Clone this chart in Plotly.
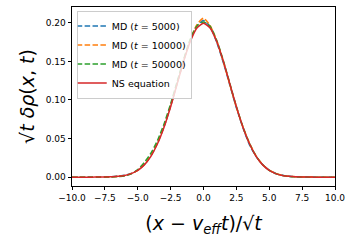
import plotly.graph_objects as go

x = [-10.0, -9.5, -9.0, -8.5, -8.0, -7.5, -7.0, -6.5, -6.0, -5.5, -5.0, -4.5, -4.0, -3.5, -3.0, -2.5, -2.0, -1.5, -1.0, -0.5,
     0.0, 0.5, 1.0, 1.5, 2.0, 2.5, 3.0, 3.5, 4.0, 4.5, 5.0, 5.5, 6.0, 6.5, 7.0, 7.5, 8.0, 8.5, 9.0, 9.5, 10.0]

ns_eq = [0.0, 0.0, 0.0, 0.0, 0.0001, 0.0002, 0.0004, 0.0010, 0.0022, 0.0045, 0.0088, 0.0159, 0.0270, 0.0432, 0.0648, 0.0913, 0.1210, 0.1506, 0.1760, 0.1934,
         0.1995, 0.1934, 0.1760, 0.1506, 0.1210, 0.0913, 0.0648, 0.0432, 0.0270, 0.0159, 0.0088, 0.0045, 0.0022, 0.0010, 0.0004, 0.0002, 0.0001, 0.0, 0.0, 0.0, 0.0]

md_5000 = [0.0, 0.0, 0.0, 0.0001, 0.0001, 0.0003, 0.0005, 0.0011, 0.0023, 0.0047, 0.0090, 0.0163, 0.0276, 0.0440, 0.0655, 0.0920, 0.1222, 0.1515, 0.1775, 0.1960,
           0.2030, 0.1950, 0.1750, 0.1490, 0.1195, 0.0900, 0.0640, 0.0418, 0.0268, 0.0160, 0.0090, 0.0046, 0.0023, 0.0011, 0.0005, 0.0002, 0.0001, 0.0, 0.0, 0.0, 0.0]

md_10000 = [0.0, 0.0, 0.0, 0.0, 0.0001, 0.0002, 0.0004, 0.0010, 0.0021, 0.0046, 0.0089, 0.0165, 0.0280, 0.0445, 0.0660, 0.0925, 0.1220, 0.1520, 0.1785, 0.1975,
            0.2060, 0.1965, 0.1770, 0.1500, 0.1200, 0.0905, 0.0650, 0.0440, 0.0275, 0.0162, 0.0090, 0.0047, 0.0022, 0.0010, 0.0005, 0.0002, 0.0001, 0.0, 0.0, 0.0, 0.0]

md_50000 = [0.0, 0.0, 0.0, 0.0, 0.0, 0.0001, 0.0002, 0.0008, 0.0015, 0.0042, 0.0098, 0.0190, 0.0310, 0.0475, 0.0690, 0.0950, 0.1240, 0.1530, 0.1790, 0.1960,
            0.2010, 0.1955, 0.1775, 0.1515, 0.1215, 0.0915, 0.0650, 0.0435, 0.0272, 0.0160, 0.0088, 0.0045, 0.0022, 0.0010, 0.0004, 0.0001, 0.0, 0.0, 0.0, 0.0, 0.0]

x_ticks = [-10.0, -7.5, -5.0, -2.5, 0.0, 2.5, 5.0, 7.5, 10.0]
x_tick_text = ["\u221210.0", "\u22127.5", "\u22125.0", "\u22122.5", "0.0", "2.5", "5.0", "7.5", "10.0"]
y_ticks = [0.0, 0.05, 0.10, 0.15, 0.20]
y_tick_text = ["0.00", "0.05", "0.10", "0.15", "0.20"]

series = [
    ("MD (<i>t</i> = 5000)", md_5000, "#1f77b4", "5.5px,2.4px"),
    ("MD (<i>t</i> = 10000)", md_10000, "#ff7f0e", "5.5px,2.4px"),
    ("MD (<i>t</i> = 50000)", md_50000, "#2ca02c", "5.5px,2.4px"),
    ("NS equation", ns_eq, "#d62728", "solid"),
]

fig = go.Figure()
for name, vals, col, dash in series:
    fig.add_trace(go.Scatter(x=x, y=vals, mode="lines", name=name,
                             line=dict(color=col, width=1.5, dash=dash, shape="spline", smoothing=0.6)))

font = "DejaVu Sans, sans-serif"
fig.update_layout(
    width=352, height=244,
    margin=dict(l=72, r=17, t=7, b=58, autoexpand=False),
    paper_bgcolor="white", plot_bgcolor="white",
    font=dict(family=font, size=9, color="black"),
    showlegend=True,
    legend=dict(x=0.018, y=0.98, xanchor="left", yanchor="top",
                bgcolor="rgba(255,255,255,0.8)", bordercolor="#cccccc", borderwidth=1,
                font=dict(size=9.5, family=font), tracegroupgap=0, itemwidth=30,
                indentation=-6),
    xaxis=dict(range=[-10, 10], tickvals=x_ticks, ticktext=x_tick_text, automargin=False,
               ticks="outside", ticklen=3.5, tickwidth=0.8, tickcolor="black",
               showline=True, linecolor="black", linewidth=0.8, mirror=True,
               showgrid=False, zeroline=False,
               title=dict(text="(<i>x</i> \u2212 <i>v</i><sub><i>eff</i></sub><i>t</i>)/\u221a<i>t</i>",
                          font=dict(size=19, family=font), standoff=14)),
    yaxis=dict(range=[-0.0115, 0.2205], tickvals=y_ticks, ticktext=y_tick_text, automargin=False,
               ticks="outside", ticklen=3.5, tickwidth=0.8, tickcolor="black",
               showline=True, linecolor="black", linewidth=0.8, mirror=True,
               showgrid=False, zeroline=False,
               title=dict(text="\u221a<i>t</i> <i>\u03b4\u03c1</i>(<i>x</i>, <i>t</i>)",
                          font=dict(size=19, family=font), standoff=6)),
)

fig.write_html("out.html", config={"displayModeBar": False},
               post_script="document.body.style.margin='0';document.body.style.padding='0';")
